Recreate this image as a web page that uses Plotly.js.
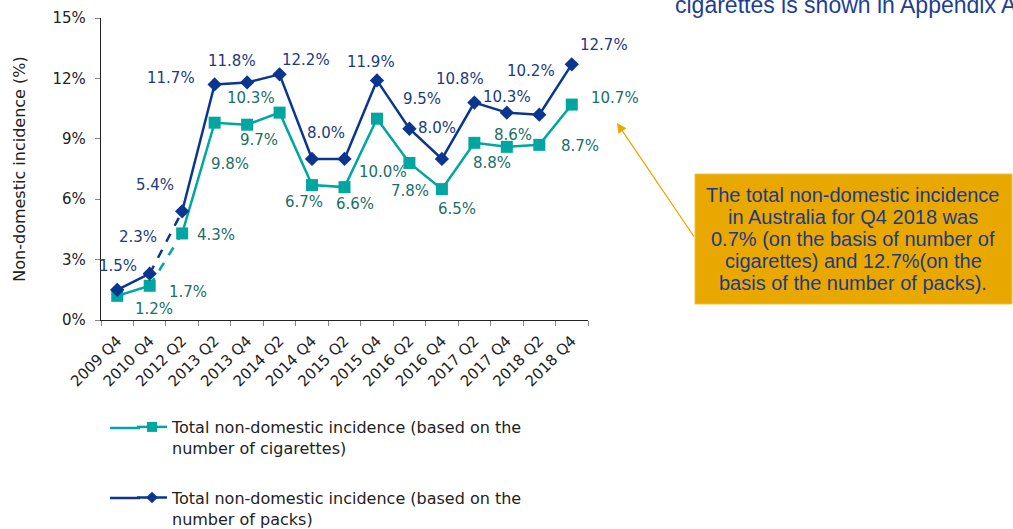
<!DOCTYPE html>
<html>
<head>
<meta charset="utf-8">
<script src="https://cdn.plot.ly/plotly-3.0.1.min.js"></script>
<style>html,body{margin:0;padding:0;background:#fff;}#chart{width:1013px;height:529px;}</style>
</head>
<body>
<div id="chart"></div>
<script>
var categories = ["2009 Q4","2010 Q4","2012 Q2","2013 Q2","2013 Q4","2014 Q2","2014 Q4","2015 Q2","2015 Q4","2016 Q2","2016 Q4","2017 Q2","2017 Q4","2018 Q2","2018 Q4"];
var cigarettes = [1.2,1.7,4.3,9.8,9.7,10.3,6.7,6.6,10.0,7.8,6.5,8.8,8.6,8.7,10.7];
var packs = [1.5,2.3,5.4,11.7,11.8,12.2,8.0,8.0,11.9,9.5,8.0,10.8,10.3,10.2,12.7];
var yTicks = [0,3,6,9,12,15];
var nameCig = "Total non-domestic incidence (based on the<br>number of cigarettes)";
var namePacks = "Total non-domestic incidence (based on the<br>number of packs)";
var noteLines = ["The total non-domestic incidence","in Australia for Q4 2018 was","0.7% (on the basis of number of","cigarettes) and 12.7%(on the","basis of the number of packs)."];
var topText = "cigarettes is shown in Appendix A";

// label offsets in pixels (style only)
var cigOff = [[37,13],[38,6],[34,2],[15,41],[12,15],[-29,-15],[-8,17],[10,17],[6,53],[1,28],[15,20],[18,20],[6,-12],[41,1],[43,-7]];
var packOff = [[1,-24],[-12,-37],[-27,-26],[-44,-6],[-15,-21],[26,-14],[14,-26],null,[-6,-18],[13,-30],[-5,-31],[-14,-24],[0,-16],[-8,-44],[32,-19]];

var NAVY = "#0b3690", TEAL = "#00a69f";
var NAVY_T = "#1d3a80", TEAL_T = "#1a6f67";
var FONT = "DejaVu Sans, Verdana, sans-serif";
var AFONT = "Liberation Sans, Arial, sans-serif";

// pixel -> paper helpers (plot area 101..588 x 18..320)
function px(x){ return (x-101)/487; }
function py(y){ return (320-y)/302; }

function seg(arr, a, b){ return arr.slice(a, b+1); }

var traces = [];
function addSeries(vals, color, sym, msize, name, grp){
  traces.push({x: seg(categories,0,1), y: seg(vals,0,1), type:"scatter", mode:"lines",
    line:{color:color, width:2.5}, showlegend:false, hoverinfo:"skip", legendgroup:grp});
  traces.push({x: seg(categories,1,2), y: seg(vals,1,2), type:"scatter", mode:"lines",
    line:{color:color, width:2.5, dash:"dash"}, showlegend:false, hoverinfo:"skip", legendgroup:grp});
  traces.push({x: seg(categories,2,categories.length-1), y: seg(vals,2,vals.length-1), type:"scatter", mode:"lines",
    line:{color:color, width:2.5}, showlegend:false, hoverinfo:"skip", legendgroup:grp});
  traces.push({x: categories, y: vals, type:"scatter", mode:"markers", name:name,
    marker:{color:color, symbol:sym, size:msize}, legendgroup:grp, showlegend:false});
  traces.push({x: [null], y: [null], type:"scatter", mode:"lines+markers", name:name,
    line:{color:color, width:2.5}, marker:{color:color, symbol:sym, size:msize-2}, legendgroup:grp, showlegend:true});
}
addSeries(cigarettes, TEAL, "square", 12, nameCig, "g1");
addSeries(packs, NAVY, "diamond", 11, namePacks, "g2");

var annotations = [];
function addLabels(vals, offs, color){
  for (var i=0;i<vals.length;i++){
    if(!offs[i]) continue;
    annotations.push({x: categories[i], y: vals[i], xref:"x", yref:"y", text: vals[i].toFixed(1)+"%",
      showarrow:false, xanchor:"center", yanchor:"middle", xshift: offs[i][0], yshift: -offs[i][1],
      font:{family:FONT, size:15, color:color}});
  }
}
addLabels(packs, packOff, NAVY_T);
addLabels(cigarettes, cigOff, TEAL_T);

// note text, one line each
for (var k=0;k<noteLines.length;k++){
  annotations.push({x:px(853), y:py(195+22*k), xref:"paper", yref:"paper", xanchor:"center", yanchor:"middle",
    text: noteLines[k], showarrow:false, font:{family:AFONT, size:20, color:"#1d3a8a"}});
}
// arrow
annotations.push({x:px(617), y:py(123), xref:"paper", yref:"paper", text:"", showarrow:true,
  ax:78, ay:115, arrowhead:2, arrowsize:1.5, arrowwidth:1.3, arrowcolor:"#e9a800", standoff:0});
// top clipped text
annotations.push({x:px(673), y:py(5), xref:"paper", yref:"paper", xanchor:"left", yanchor:"middle",
  text: topText, showarrow:false, font:{family:AFONT, size:23, color:"#1d3f94"}});

var layout = {
  width:1013, height:529,
  margin:{l:101, r:425, t:18, b:209, pad:0, autoexpand:false},
  paper_bgcolor:"#ffffff", plot_bgcolor:"#ffffff",
  font:{family:FONT, size:15, color:"#222"},
  xaxis:{type:"category", categoryarray:categories, range:[-0.5, categories.length-0.5], automargin:false,
    showgrid:false, zeroline:false, showline:true, linecolor:"#222", linewidth:1.2,
    ticks:"outside", tickson:"boundaries", ticklen:5, tickcolor:"#888", tickwidth:1, ticklabelstandoff:5,
    tickangle:-45, tickfont:{family:FONT, size:15, color:"#222"}, fixedrange:true},
  yaxis:{range:[0,15], tickvals:yTicks, ticktext:yTicks.map(function(v){return v+"%";}), automargin:false,
    showgrid:false, zeroline:false, showline:true, linecolor:"#222", linewidth:1.2,
    ticks:"outside", ticklen:5, tickcolor:"#888", ticklabelstandoff:6, tickfont:{family:FONT, size:15, color:"#222"},
    title:{text:"Non-domestic incidence (%)", font:{family:FONT, size:16, color:"#222"}, standoff:22}, fixedrange:true},
  showlegend:true,
  legend:{x:px(132), y:py(410), xanchor:"left", yanchor:"top", orientation:"v", valign:"top",
    font:{family:FONT, size:16, color:"#222"}, tracegroupgap:26, bgcolor:"rgba(0,0,0,0)"},
  shapes:[{type:"rect", xref:"paper", yref:"paper", x0:px(695), x1:px(1012),
    y0:py(304), y1:py(174), fillcolor:"#e9a800", line:{color:"#f0c040", width:1}, layer:"below"},
    {type:"line", xref:"paper", yref:"paper", x0:px(110), x1:px(140), y0:py(428), y1:py(428), line:{color:TEAL, width:2.5}},
    {type:"line", xref:"paper", yref:"paper", x0:px(110), x1:px(140), y0:py(498), y1:py(498), line:{color:NAVY, width:2.5}}],
  annotations: annotations
};
Plotly.newPlot("chart", traces, layout, {displayModeBar:false, staticPlot:true});
</script>
</body>
</html>
